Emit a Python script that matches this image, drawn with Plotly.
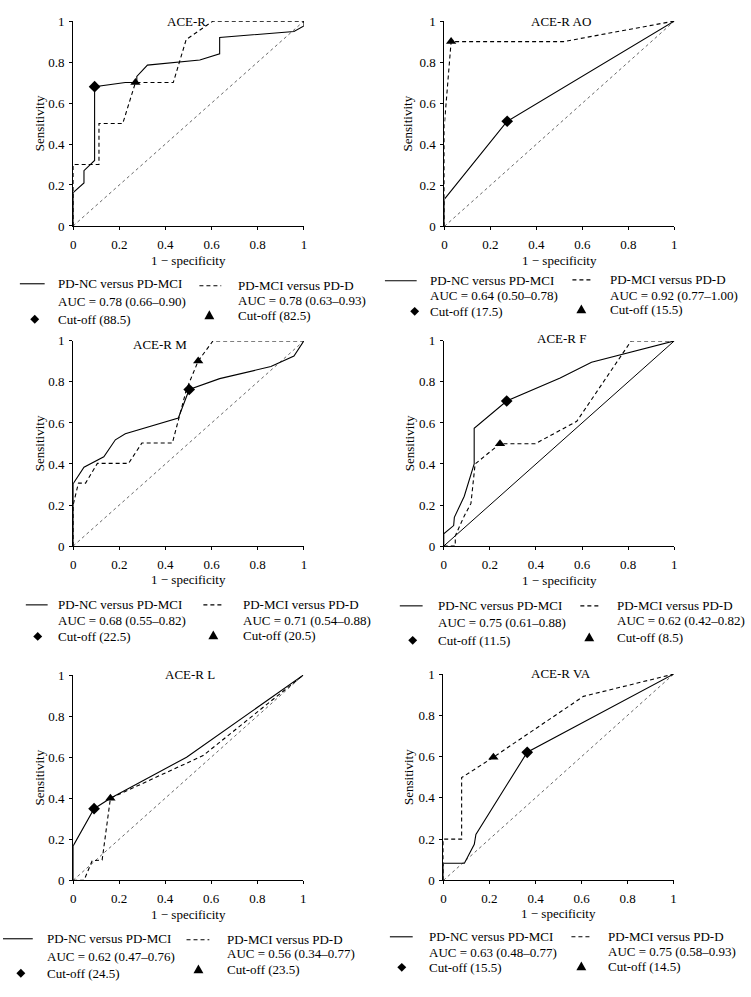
import plotly.graph_objects as go

W, H = 751, 997
FONT = "Liberation Serif"
FS = 13

# ---------------- data ----------------
titles = ["ACE-R", "ACE-R AO", "ACE-R M", "ACE-R F", "ACE-R L", "ACE-R VA"]

acer_nc_x = [0, 0, 0.047, 0.047, 0.093, 0.093, 0.226, 0.276, 0.276, 0.322, 0.549, 0.635, 0.635, 0.957, 1.0, 1.0]
acer_nc_y = [0, 0.163, 0.21, 0.27, 0.32, 0.68, 0.70, 0.70, 0.73, 0.785, 0.81, 0.84, 0.92, 0.949, 0.976, 1.0]
acer_mci_x = [0, 0, 0.112, 0.112, 0.215, 0.27, 0.434, 0.49, 0.606, 1.0, 1.0]
acer_mci_y = [0, 0.30, 0.30, 0.50, 0.50, 0.70, 0.70, 0.91, 1.0, 1.0, 0.985]

ao_nc_x = [0, 0, 0.273, 1.0]
ao_nc_y = [0, 0.133, 0.512, 1.0]
ao_mci_x = [0, 0, 0.029, 0.518, 1.0]
ao_mci_y = [0, 0.5, 0.90, 0.90, 1.0]

m_nc_x = [0, 0, 0.047, 0.133, 0.183, 0.226, 0.456, 0.503, 0.635, 0.857, 0.957, 1.0]
m_nc_y = [0, 0.304, 0.384, 0.435, 0.518, 0.547, 0.624, 0.763, 0.816, 0.875, 0.926, 1.0]
m_mci_x = [0, 0, 0.023, 0.054, 0.105, 0.24, 0.298, 0.43, 0.491, 0.542, 0.606, 1.0]
m_mci_y = [0, 0.20, 0.307, 0.307, 0.403, 0.403, 0.502, 0.502, 0.763, 0.902, 1.0, 1.0]

f_nc_x = [0, 0, 0.043, 0.046, 0.089, 0.132, 0.132, 0.273, 0.505, 0.641, 1.0]
f_nc_y = [0, 0.06, 0.10, 0.14, 0.243, 0.40, 0.574, 0.707, 0.819, 0.896, 1.0]
f_mci_x = [0, 0.05, 0.05, 0.089, 0.118, 0.136, 0.244, 0.397, 0.577, 0.813, 1.0]
f_mci_y = [0, 0, 0.05, 0.147, 0.208, 0.40, 0.499, 0.499, 0.608, 1.0, 1.0]

l_nc_x = [0, 0, 0.091, 0.162, 0.493, 1.0]
l_nc_y = [0, 0.168, 0.349, 0.40, 0.60, 1.0]
l_mci_x = [0, 0.047, 0.083, 0.126, 0.162, 0.30, 0.565, 1.0]
l_mci_y = [0, 0, 0.096, 0.099, 0.40, 0.47, 0.608, 1.0]

va_nc_x = [0, 0, 0.091, 0.134, 0.141, 0.364, 1.0]
va_nc_y = [0, 0.083, 0.083, 0.175, 0.223, 0.621, 1.0]
va_mci_x = [0, 0, 0.079, 0.079, 0.217, 0.608, 1.0]
va_mci_y = [0, 0.2, 0.2, 0.498, 0.597, 0.892, 1.0]

cut_nc_x = [0.093, 0.273, 0.503, 0.273, 0.091, 0.364]
cut_nc_y = [0.68, 0.512, 0.763, 0.707, 0.349, 0.621]
cut_mci_x = [0.27, 0.029, 0.542, 0.244, 0.162, 0.217]
cut_mci_y = [0.70, 0.90, 0.902, 0.499, 0.40, 0.597]

auc_nc = ["0.78 (0.66–0.90)", "0.64 (0.50–0.78)", "0.68 (0.55–0.82)",
          "0.75 (0.61–0.88)", "0.62 (0.47–0.76)", "0.63 (0.48–0.77)"]
auc_mci = ["0.78 (0.63–0.93)", "0.92 (0.77–1.00)", "0.71 (0.54–0.88)",
           "0.62 (0.42–0.82)", "0.56 (0.34–0.77)", "0.75 (0.58–0.93)"]
cutoff_nc = ["88.5", "17.5", "22.5", "11.5", "24.5", "15.5"]
cutoff_mci = ["82.5", "15.5", "20.5", "8.5", "23.5", "14.5"]

ticks = [0, 0.2, 0.4, 0.6, 0.8, 1]
tick_text = ["0", "0.2", "0.4", "0.6", "0.8", "1"]

curves = [
    (acer_nc_x, acer_nc_y, acer_mci_x, acer_mci_y),
    (ao_nc_x, ao_nc_y, ao_mci_x, ao_mci_y),
    (m_nc_x, m_nc_y, m_mci_x, m_mci_y),
    (f_nc_x, f_nc_y, f_mci_x, f_mci_y),
    (l_nc_x, l_nc_y, l_mci_x, l_mci_y),
    (va_nc_x, va_nc_y, va_mci_x, va_mci_y),
]

# ---------------- layout (pixels) ----------------
# plot area: x0, x1, ytop, ybottom
boxes = [
    (70.7, 303.3, 14.3, 222.3),
    (445.0, 676.7, 14.3, 222.7),
    (70.7, 303.3, 339.0, 547.3),
    (444.3, 676.7, 339.0, 547.3),
    (70.7, 302.7, 678.3, 886.7),
    (444.0, 676.0, 677.3, 886.7),
]
title_pos = [(185, 15), (562, 15), (158, 343), (563, 337), (189, 678), (562, 677)]
xtitle_y = [257, 257, 581, 582, 921, 920]
ytitle_x = [37, 408, 37, 410, 37, 408]
diag_solid = [False, False, False, True, False, False]

# legend: (line x1, line x2, symbol x, text x, rows y)
leg_left = [
    (17, 42, 32, 53, (281, 299, 317)),
    (385, 417, 415, 428, (278, 293, 309)),
    (23, 45, 35, 53, (607, 623, 639)),
    (400, 423, 413, 436, (608, 625, 643)),
    (0, 30, 18, 42, (946, 964, 981)),
    (390, 413, 402, 427, (944, 960, 975)),
]
leg_right = [
    (198, 220, 208, 235, (283, 298, 313)),
    (574, 595, 583, 610, (277, 293, 307)),
    (202, 222, 212, 240, (607, 623, 638)),
    (582, 602, 591, 617, (608, 623, 640)),
    (185, 208, 197, 224, (947, 961, 977)),
    (573, 593, 583, 608, (944, 959, 974)),
]


def px(x):
    return x / W


def py(y):
    return 1 - y / H


fig = go.Figure()
annotations = []
shapes = []

for i in range(6):
    xa = "x" if i == 0 else f"x{i+1}"
    ya = "y" if i == 0 else f"y{i+1}"
    ncx, ncy, mcx, mcy = curves[i]
    # chance line
    fig.add_trace(go.Scatter(
        x=[0, 1], y=[0, 1], xaxis=xa, yaxis=ya, mode="lines",
        line=dict(color="black" if diag_solid[i] else "#666666", width=1,
                  dash="solid" if diag_solid[i] else "dot"),
        showlegend=False, hoverinfo="skip", cliponaxis=False))
    fig.add_trace(go.Scatter(
        x=ncx, y=ncy, xaxis=xa, yaxis=ya, mode="lines",
        line=dict(color="black", width=1.1), showlegend=False, cliponaxis=False))
    fig.add_trace(go.Scatter(
        x=mcx, y=mcy, xaxis=xa, yaxis=ya, mode="lines",
        line=dict(color="black", width=1.1, dash="4px,3px"), showlegend=False, cliponaxis=False))
    fig.add_trace(go.Scatter(
        x=[cut_nc_x[i]], y=[cut_nc_y[i]], xaxis=xa, yaxis=ya, mode="markers",
        marker=dict(symbol="diamond", size=9, color="black"), showlegend=False, cliponaxis=False))
    fig.add_trace(go.Scatter(
        x=[cut_mci_x[i]], y=[cut_mci_y[i]], xaxis=xa, yaxis=ya, mode="markers",
        marker=dict(symbol="triangle-up", size=9, color="black"), showlegend=False, cliponaxis=False))

    x0, x1, yt, yb = boxes[i]
    axcommon = dict(range=[0, 1], showgrid=False, zeroline=False, showline=True,
                    linecolor="black", linewidth=1, ticks="outside", ticklen=3,
                    tickcolor="black", tickvals=ticks, ticktext=tick_text,
                    tickfont=dict(family=FONT, size=FS, color="black"), fixedrange=True)
    fig.update_layout(**{
        ("xaxis" if i == 0 else f"xaxis{i+1}"): dict(domain=[px(x0), px(x1)], anchor=ya,
                                                      ticklabelstandoff=3, **axcommon),
        ("yaxis" if i == 0 else f"yaxis{i+1}"): dict(domain=[py(yb), py(yt)], anchor=xa,
                                                      ticklabelstandoff=2, **axcommon),
    })

    tx, ty = title_pos[i]
    annotations.append(dict(text=titles[i], x=px(tx), y=py(ty), xref="paper", yref="paper",
                            xanchor="center", yanchor="middle", showarrow=False,
                            font=dict(family=FONT, size=FS, color="black")))
    annotations.append(dict(text="1 − specificity", x=px((x0 + x1) / 2), y=py(xtitle_y[i]),
                            xref="paper", yref="paper", xanchor="center", yanchor="middle",
                            showarrow=False, font=dict(family=FONT, size=FS, color="black")))
    annotations.append(dict(text="Sensitivity", x=px(ytitle_x[i]), y=py((yt + yb) / 2),
                            xref="paper", yref="paper", xanchor="center", yanchor="middle",
                            textangle=-90, showarrow=False,
                            font=dict(family=FONT, size=FS, color="black")))

    # legend left
    lx1, lx2, sx, tx_, rows = leg_left[i]
    shapes.append(dict(type="line", xref="paper", yref="paper", x0=px(lx1), x1=px(lx2),
                       y0=py(rows[0]), y1=py(rows[0]), line=dict(color="black", width=1.1)))
    cx, cy, s = sx, rows[2], 4.5
    shapes.append(dict(type="path", xref="paper", yref="paper", fillcolor="black",
                       line=dict(color="black", width=0),
                       path=f"M {px(cx)},{py(cy - s)} L {px(cx + s)},{py(cy)} L {px(cx)},{py(cy + s)} L {px(cx - s)},{py(cy)} Z"))
    for txt, ry in zip(["PD-NC versus PD-MCI", "AUC = " + auc_nc[i], "Cut-off (" + cutoff_nc[i] + ")"], rows):
        annotations.append(dict(text=txt, x=px(tx_), y=py(ry), xref="paper", yref="paper",
                                xanchor="left", yanchor="middle", showarrow=False,
                                font=dict(family=FONT, size=FS, color="black")))
    # legend right
    rx1, rx2, sx, tx_, rows = leg_right[i]
    shapes.append(dict(type="line", xref="paper", yref="paper", x0=px(rx1), x1=px(rx2),
                       y0=py(rows[0]), y1=py(rows[0]),
                       line=dict(color="black", width=1.1, dash="4px,3px")))
    cx, cy = sx, rows[2]
    shapes.append(dict(type="path", xref="paper", yref="paper", fillcolor="black",
                       line=dict(color="black", width=0),
                       path=f"M {px(cx)},{py(cy - 5)} L {px(cx + 5)},{py(cy + 4)} L {px(cx - 5)},{py(cy + 4)} Z"))
    for txt, ry in zip(["PD-MCI versus PD-D", "AUC = " + auc_mci[i], "Cut-off (" + cutoff_mci[i] + ")"], rows):
        annotations.append(dict(text=txt, x=px(tx_), y=py(ry), xref="paper", yref="paper",
                                xanchor="left", yanchor="middle", showarrow=False,
                                font=dict(family=FONT, size=FS, color="black")))

fig.update_layout(
    width=W, height=H, margin=dict(l=0, r=0, t=0, b=0),
    paper_bgcolor="white", plot_bgcolor="white",
    annotations=annotations, shapes=shapes, showlegend=False,
    font=dict(family=FONT, size=FS, color="black"),
)

fig.write_html(
    "out.html",
    config={"displayModeBar": False},
    post_script="document.body.style.margin='0';document.body.style.overflow='hidden';",
)
